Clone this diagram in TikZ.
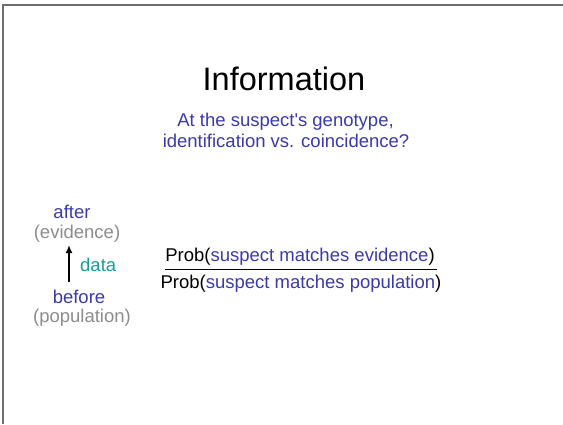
\documentclass[tikz,border=0pt]{standalone}
\usepackage{fontspec}
\setmainfont{Liberation Sans}
\usetikzlibrary{arrows.meta}
\definecolor{slideblue}{RGB}{58,58,168}
\definecolor{slidegray}{RGB}{140,140,140}
\definecolor{slideteal}{RGB}{20,158,158}
\definecolor{framegray}{RGB}{110,110,110}
\tikzset{
  txt/.style={inner sep=0pt, anchor=base, font=\fontsize{18.5}{22}\selectfont},
  blue txt/.style={txt, text=slideblue},
  gray txt/.style={txt, text=slidegray}
}
\begin{document}
\begin{tikzpicture}[x=1pt,y=-1pt]
  \useasboundingbox (0,0) rectangle (563,424);
  % slide frame (top and left edges only):
  \draw[framegray, line width=1.5pt] (3,424) -- (3,5) -- (563,5);
  % title and question:
  \node[txt, font=\fontsize{32.5}{38}\selectfont] (title) at (284,90) {Information};
  \node[blue txt] (question1) at (285.5,126) {At the suspect\textquotesingle s genotype,};
  \node[blue txt] (question2) at (286,147) {identification vs. coincidence?};
  % before/after on the left:
  \node[blue txt] (after) at (72,218) {after};
  \node[gray txt] (evidence) at (77,238) {(evidence)};
  \node[blue txt] (before) at (79,303) {before};
  \node[gray txt] (population) at (82,322) {(population)};
  \node[txt, anchor=base west, text=slideteal] (data) at (80,271) {data};
  \coordinate (arrowx) at (69,0);
  \draw[-{Latex[length=8pt,width=7pt]}, line width=1.6pt, shorten <=7pt, shorten >=3pt]
    (before.north -| arrowx) -- (evidence.south -| arrowx);
  % the ratio:
  \node[txt] (numerator) at (300,261)
    {Prob(\textcolor{slideblue}{suspect matches evidence})};
  \node[txt] (denominator) at (301,288)
    {Prob(\textcolor{slideblue}{suspect matches population})};
  \draw[line width=1pt] ([yshift=-4pt]numerator.south west) -- ([xshift=2pt,yshift=-4pt]numerator.south east);
\end{tikzpicture}
\end{document}
